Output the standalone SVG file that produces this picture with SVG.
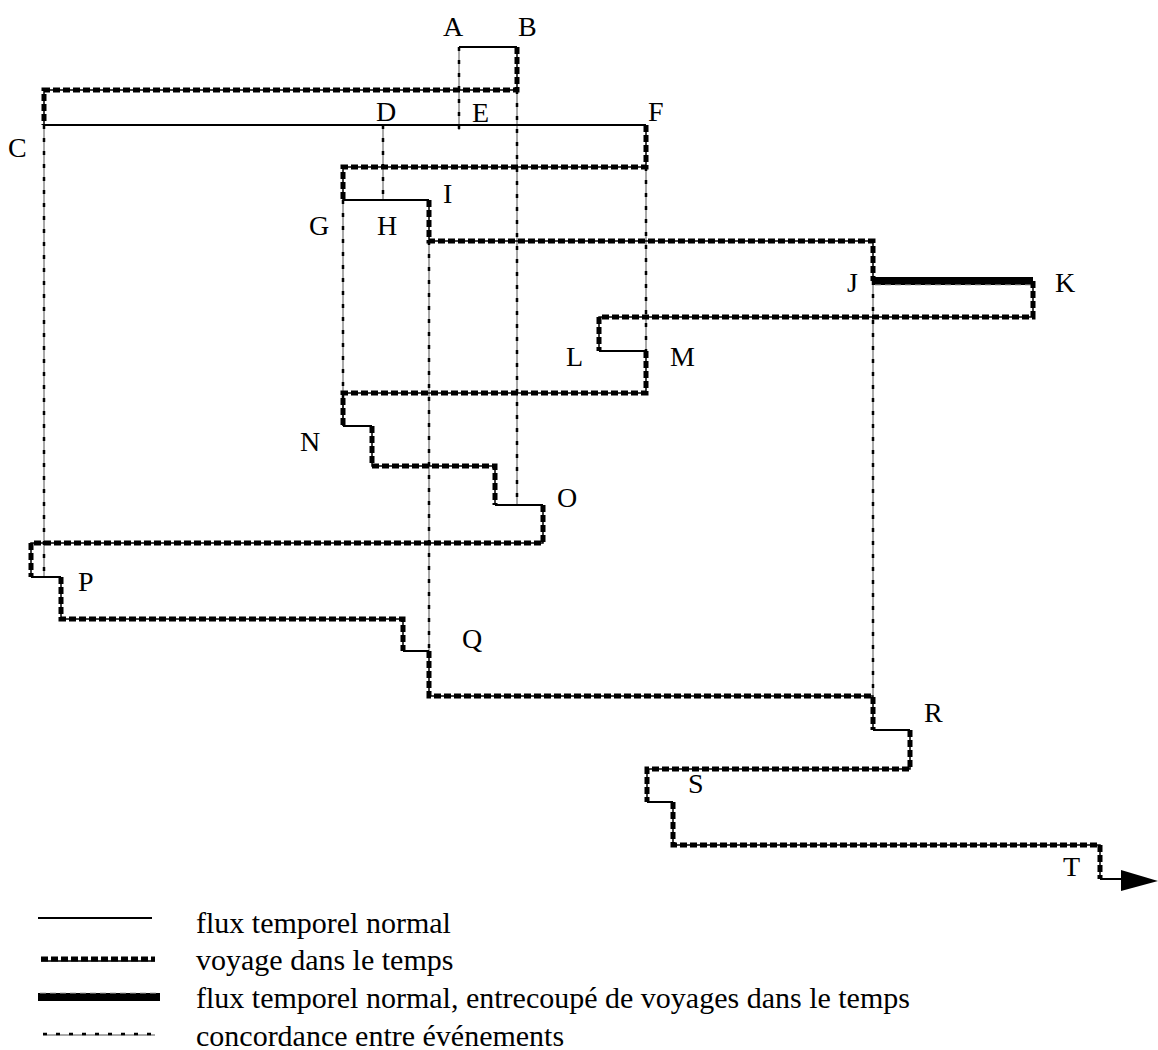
<svg xmlns="http://www.w3.org/2000/svg" width="1158" height="1050" viewBox="0 0 1158 1050">
<style>
.lbl{font-family:"Liberation Serif","Times New Roman",serif;font-size:28px;fill:#000}
.leg{font-family:"Liberation Serif","Times New Roman",serif;font-size:30px;fill:#000}
.solid{fill:none;stroke:#000;stroke-width:2}
.tthin{fill:none;stroke:#000;stroke-width:1.5}
.tdash{fill:none;stroke:#000;stroke-width:5;stroke-dasharray:7 3}
.cthin{fill:none;stroke:#555;stroke-width:1}
.cdash{fill:none;stroke:#000;stroke-width:2.5;stroke-dasharray:4 9}
.thick{fill:none;stroke:#000;stroke-width:8}
.thickin{fill:none;stroke:#aaa;stroke-width:1;stroke-dasharray:6 4}
</style>
<g id="connectors">
<g id="concordance">
<path class="cthin" d="M459,47V130M517,90V505M44,125V577M383,125V200M343,200V426M429,241V651M646,167V351M873,281V696"/>
<path class="cdash" d="M459,47V130M517,90V505M44,125V577M383,125V200M343,200V426M429,241V651M646,167V351M873,281V696"/>
</g>
<g id="normal">
<path class="solid" d="M459,47H517M44,125H646M343,200H429M599,351H646M343,426H372M495,505H543M31,577H61M403,651H429M873,730H910M647,802H673M1100,879H1122"/>
</g>
<g id="thickflux">
<path class="thick" d="M873,281H1033"/>
<path class="thickin" d="M875,285H1031"/>
</g>
<g id="travel">
<path class="tthin" d="M517,47V90H44V125M646,125V167H343V200M429,200V241H873V281M1033,281V317H599V351M646,351V393H343V426M372,426V466H495V505M543,505V543H31V577M61,577V619H403V651M429,651V696H873V730M910,730V769H647V802M673,802V845H1100V879"/>
<path class="tdash" d="M517,47V90H44V125M646,125V167H343V200M429,200V241H873V281M1033,281V317H599V351M646,351V393H343V426M372,426V466H495V505M543,505V543H31V577M61,577V619H403V651M429,651V696H873V730M910,730V769H647V802M673,802V845H1100V879"/>
</g>
<polygon id="arrow" points="1121,870 1158,881 1121,891" fill="#000"/>
</g>
<g id="node-A"><text class="lbl" x="443" y="36">A</text></g>
<g id="node-B"><text class="lbl" x="518" y="36">B</text></g>
<g id="node-C"><text class="lbl" x="8" y="157">C</text></g>
<g id="node-D"><text class="lbl" x="376" y="121">D</text></g>
<g id="node-E"><text class="lbl" x="472" y="122">E</text></g>
<g id="node-F"><text class="lbl" x="648" y="121">F</text></g>
<g id="node-G"><text class="lbl" x="309" y="235">G</text></g>
<g id="node-H"><text class="lbl" x="377" y="235">H</text></g>
<g id="node-I"><text class="lbl" x="443" y="203">I</text></g>
<g id="node-J"><text class="lbl" x="847" y="292">J</text></g>
<g id="node-K"><text class="lbl" x="1055" y="292">K</text></g>
<g id="node-L"><text class="lbl" x="566" y="366">L</text></g>
<g id="node-M"><text class="lbl" x="670" y="366">M</text></g>
<g id="node-N"><text class="lbl" x="300" y="451">N</text></g>
<g id="node-O"><text class="lbl" x="557" y="507">O</text></g>
<g id="node-P"><text class="lbl" x="78" y="591">P</text></g>
<g id="node-Q"><text class="lbl" x="462" y="648">Q</text></g>
<g id="node-R"><text class="lbl" x="924" y="722">R</text></g>
<g id="node-S"><text class="lbl" x="688" y="793">S</text></g>
<g id="node-T"><text class="lbl" x="1063" y="876">T</text></g>
<g id="legend">
<path class="solid" d="M38,918H152"/>
<path class="tthin" d="M41,961H155"/>
<path class="tdash" d="M41,959H155"/>
<path class="thick" d="M38,997H160"/>
<path class="thickin" d="M40,993H158"/>
<path class="cthin" d="M43,1035H155"/>
<path class="cdash" d="M43,1034H155"/>
<text class="leg" x="196" y="933">flux temporel normal</text>
<text class="leg" x="196" y="970">voyage dans le temps</text>
<text class="leg" x="196" y="1008">flux temporel normal, entrecoupé de voyages dans le temps</text>
<text class="leg" x="196" y="1046">concordance entre événements</text>
</g>
</svg>
